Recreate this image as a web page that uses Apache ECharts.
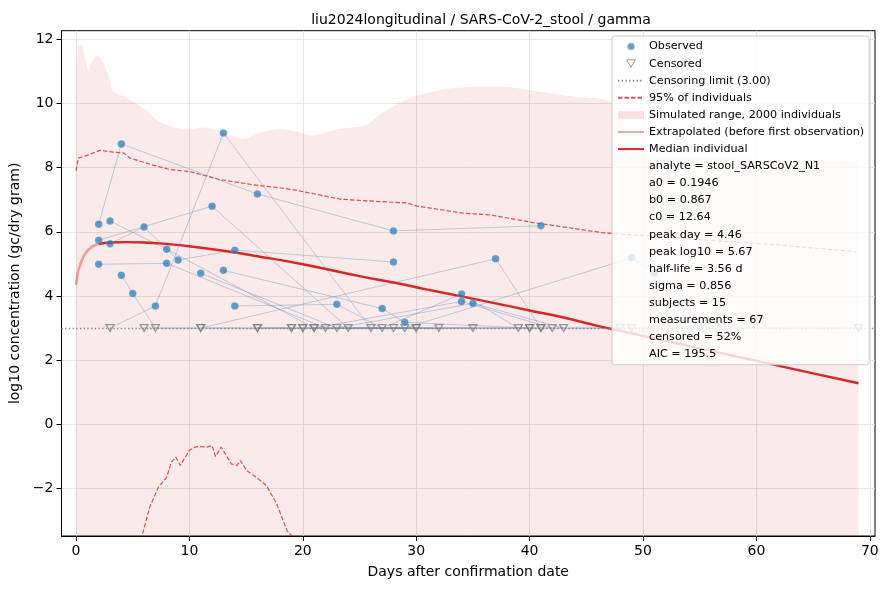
<!DOCTYPE html>
<html>
<head>
<meta charset="utf-8">
<title>liu2024longitudinal / SARS-CoV-2_stool / gamma</title>
<script src="https://cdn.jsdelivr.net/npm/echarts@6/dist/echarts.min.js"></script>
<style>
  html, body { margin: 0; padding: 0; background: #fff; }
  #chart { width: 889px; height: 590px; }
</style>
</head>
<body>
<div id="chart"></div>
<script>
// ---- axis ranges / ticks ----
var xMin = -1.28, xMax = 70.46;
var yMin = -3.48, yMax = 12.27;
var xTicks = [0, 10, 20, 30, 40, 50, 60, 70];
var yTicks = [-2, 0, 2, 4, 6, 8, 10, 12];
var censorLimit = 3.0;

// ---- simulated range (upper envelope, lower edge is below the axis) ----
var simDays  = [0, 0.2, 0.35, 0.6, 0.85, 1.09, 1.4, 1.88, 2.4, 2.9, 3.3, 4.47, 5.64, 6.6, 7.55, 9.9, 11.2, 12.7, 14.75, 16.2, 18, 19.5, 20.8, 23, 25.6, 26.8, 29.5, 32.4, 35.3, 37.4, 41.2, 44, 45.3, 47.2, 48, 49, 55, 62, 69];
var simUpper = [11.0, 11.79, 11.84, 11.7, 11.35, 11.01, 11.3, 11.48, 11.27, 10.85, 10.38, 10.18, 9.92, 9.65, 9.40, 9.19, 9.25, 9.13, 8.90, 9.10, 9.2, 9.13, 9.0, 9.19, 9.34, 9.66, 10.18, 10.44, 10.52, 10.52, 10.35, 10.2, 10.18, 10.04, 9.5, 8.4, 8.3, 8.25, 8.2];

// ---- 95% of individuals ----
var p95UpDays  = [0, 0.2, 1.1, 2.1, 3.4, 4.2, 4.76, 6.7, 8.3, 10, 12.7, 15.6, 18.3, 19.2, 23.3, 25, 29.2, 30, 34.2, 36.5, 40.3, 44.4, 46.5, 53.3, 62, 68.8];
var p95Upper   = [7.9, 8.3, 8.4, 8.54, 8.48, 8.46, 8.30, 8.09, 7.94, 7.88, 7.63, 7.47, 7.36, 7.31, 7.02, 6.98, 6.9, 6.81, 6.58, 6.53, 6.29, 6.08, 5.97, 5.80, 5.59, 5.38];
var p95LowDays = [5.4, 5.8, 6.5, 7.26, 8.0, 8.4, 8.8, 9.2, 10, 10.5, 10.9, 11.5, 12, 12.3, 12.8, 13.7, 14.2, 14.5, 15.05, 15.9, 16.8, 17.7, 18.6, 19.0, 19.4];
var p95Lower   = [-4.2, -3.5, -2.58, -1.96, -1.65, -1.18, -1.02, -1.28, -0.81, -0.71, -0.69, -0.71, -0.66, -1.0, -0.71, -1.23, -1.28, -1.13, -1.44, -1.65, -1.91, -2.48, -3.31, -3.47, -4.0];

// ---- median individual ----
var extrapDays   = [0, 0.1, 0.2, 0.35, 0.5, 0.7, 0.94, 1.2, 1.53, 2];
var extrapValues = [4.34, 4.6, 4.78, 4.95, 5.1, 5.25, 5.38, 5.48, 5.56, 5.62];
var medianDays   = [2, 3, 4.46, 6, 8, 10, 13, 16, 20, 25, 28, 31, 34, 37, 40, 43, 46, 50, 55, 60, 65, 69];
var medianValues = [5.62, 5.67, 5.68, 5.67, 5.62, 5.55, 5.41, 5.24, 4.99, 4.62, 4.42, 4.20, 3.99, 3.77, 3.55, 3.33, 3.07, 2.76, 2.37, 1.98, 1.59, 1.28];

// ---- subjects: [day, log10], null = censored (below limit) ----
var subj01 = [[2, 6.24], [4, 8.74], [16, 7.18], [28, 6.03], [41, 6.19]];
var subj02 = [[2, 5.74], [12, 6.80], [24, null], [32, null]];
var subj03 = [[2, 4.99], [8, 5.02], [22, null], [30, null]];
var subj04 = [[3, 5.63], [6, 6.15], [9, 5.12], [14, 5.43], [28, 5.06]];
var subj05 = [[3, 6.34], [8, 5.46], [21, null], [34, 3.83], [42, null]];
var subj06 = [[4, 4.65], [5, 4.08], [7, null], [19, null]];
var subj07 = [[3, null], [7, 3.69], [13, 9.08], [26, null], [35, null]];
var subj08 = [[11, 4.71], [23, null], [35, 3.77], [43, null]];
var subj09 = [[13, 4.80], [27, 3.61], [29, 3.18], [40, null]];
var subj10 = [[14, 3.69], [23, 3.74], [27, null], [34, 4.06], [39, null]];
var subj11 = [[6, null], [11, null], [37, 5.16], [41, null]];
var subj12 = [[16, null], [20, null], [29, null], [49, 5.19], [51, 4.72], [55, null]];
var subj13 = [[16, null], [19, null], [30, null], [49, null], [69, null]];
var subj14 = [[11, null], [21, null], [40, null], [48, null]];
var subj15 = [[20, null], [28, null], [41, null]];
var subjects = [subj01, subj02, subj03, subj04, subj05, subj06, subj07, subj08, subj09, subj10, subj11, subj12, subj13, subj14, subj15];

var statLines = ['analyte = stool_SARSCoV2_N1', 'a0 = 0.1946', 'b0 = 0.867', 'c0 = 12.64', 'peak day = 4.46', 'peak log10 = 5.67', 'half-life = 3.56 d', 'sigma = 0.856', 'subjects = 15', 'measurements = 67', 'censored = 52%', 'AIC = 195.5'];

var FONT = 'DejaVu Sans';
var RED = '#d62728';
var TRI = 'path://M0,0L10,0L5,8.66Z';

function pairs(xs, ys) {
	return xs.map(function (x, i) { return [x, ys[i]]; });
}
function fmt(v) {
	return v < 0 ? '\u2212' + (-v) : String(v);
}

var observed = [], censored = [];
var subjectSeries = subjects.map(function (s, k) {
	var pts = s.map(function (p) {
		if (p[1] === null) {
			censored.push([p[0], censorLimit]);
			return [p[0], censorLimit];
		}
		observed.push(p);
		return p;
	});
	return {
		name: 'subject ' + (k + 1), type: 'line', data: pts, symbol: 'none', silent: true, z: 3,
		lineStyle: { color: 'rgba(70,130,180,0.38)', width: 0.9 }
	};
});

var series = [{
	name: 'Simulated range, 2000 individuals', type: 'line', data: pairs(simDays, simUpper),
	symbol: 'none', smooth: 0.3, silent: true, z: 1,
	itemStyle: { color: 'rgba(214,39,40,0.14)' },
	lineStyle: { width: 0 },
	areaStyle: { color: 'rgba(214,39,40,0.14)', origin: 'start' }
}, {
	name: '95% of individuals', type: 'line', data: pairs(p95UpDays, p95Upper),
	symbol: 'none', silent: true, z: 3,
	itemStyle: { color: 'rgba(214,39,40,0.8)' },
	lineStyle: { color: 'rgba(214,39,40,0.8)', width: 1.2, type: [4.5, 2] }
}, {
	name: '95% of individuals', type: 'line', data: pairs(p95LowDays, p95Lower),
	symbol: 'none', silent: true, z: 3,
	itemStyle: { color: 'rgba(214,39,40,0.8)' },
	lineStyle: { color: 'rgba(214,39,40,0.8)', width: 1.2, type: [4.5, 2] }
}, {
	name: 'Censoring limit (3.00)', type: 'line', data: [], symbol: 'none', z: 3,
	itemStyle: { color: '#888' },
	lineStyle: { color: '#888', width: 1.3, type: [1.3, 2.4] },
	markLine: {
		silent: true, symbol: ['none', 'none'], label: { show: false }, animation: false,
		lineStyle: { color: '#888', width: 1.3, type: [1.3, 2.4] },
		data: [{ yAxis: censorLimit }]
	}
}, {
	name: 'Extrapolated (before first observation)', type: 'line', data: pairs(extrapDays, extrapValues),
	symbol: 'none', smooth: true, silent: true, z: 4,
	itemStyle: { color: 'rgba(214,39,40,0.4)' },
	lineStyle: { color: 'rgba(214,39,40,0.4)', width: 2.6 }
}, {
	name: 'Median individual', type: 'line', data: pairs(medianDays, medianValues),
	symbol: 'none', smooth: true, silent: true, z: 4,
	itemStyle: { color: RED },
	lineStyle: { color: RED, width: 2.4 }
}].concat(subjectSeries).concat([{
	name: 'Observed', type: 'scatter', data: observed, symbol: 'circle', symbolSize: 7.5, z: 5,
	itemStyle: { color: 'rgba(31,119,180,0.88)', borderColor: 'rgba(255,255,255,0.4)', borderWidth: 0.5 }
}, {
	name: 'Censored', type: 'scatter', data: censored, symbol: TRI, symbolSize: [8, 7], z: 5,
	itemStyle: { color: 'rgba(0,0,0,0)', borderColor: '#808080', borderWidth: 1.2 }
}]);

statLines.forEach(function (s) {
	series.push({ name: s, type: 'line', data: [], symbol: 'none', lineStyle: { opacity: 0 }, itemStyle: { opacity: 0 } });
});

var hidden = { opacity: 0 };
var legendData = [
	{ name: 'Observed' },
	{ name: 'Censored', itemStyle: { borderWidth: 1 } },
	{ name: 'Censoring limit (3.00)', itemStyle: hidden },
	{ name: '95% of individuals', itemStyle: hidden },
	{ name: 'Simulated range, 2000 individuals', icon: 'rect', itemStyle: { color: 'rgba(214,39,40,0.15)', opacity: 1 } },
	{ name: 'Extrapolated (before first observation)', itemStyle: hidden },
	{ name: 'Median individual', itemStyle: hidden }
].concat(statLines.map(function (s) {
	return { name: s, icon: 'none', itemStyle: hidden, lineStyle: { opacity: 0 } };
}));

var axisText = { color: '#000', fontFamily: FONT, fontSize: 14 };

var option = {
	animation: false,
	backgroundColor: '#fff',
	title: {
		text: 'liu2024longitudinal / SARS-CoV-2_stool / gamma',
		left: 476, top: 8, textAlign: 'center',
		textStyle: { color: '#000', fontFamily: FONT, fontSize: 14, fontWeight: 'normal' }
	},
	grid: {
		left: 61.5, right: 14, top: 30.7, bottom: 54,
		containLabel: false, outerBoundsMode: 'none',
		show: true, borderColor: '#000', borderWidth: 1, backgroundColor: 'rgba(0,0,0,0)'
	},
	legend: {
		orient: 'vertical', left: 612, top: 36, z: 20,
		padding: [5, 5, 5, 5],
		itemWidth: 26, itemHeight: 7.5, itemGap: 6.1,
		selectedMode: false,
		backgroundColor: 'rgba(255,255,255,0.8)',
		borderColor: '#cccccc', borderWidth: 1, borderRadius: 3,
		textStyle: { color: '#000', fontFamily: FONT, fontSize: 11.2, lineHeight: 11 },
		data: legendData
	},
	xAxis: {
		type: 'value', min: xMin, max: xMax,
		name: 'Days after confirmation date', nameLocation: 'middle', nameGap: 29,
		nameTextStyle: axisText,
		axisLine: { show: true, onZero: false, lineStyle: { color: '#000', width: 1 } },
		axisTick: { show: true, length: 5, customValues: xTicks, lineStyle: { color: '#000' } },
		axisLabel: { customValues: xTicks, margin: 8, formatter: fmt, color: '#000', fontFamily: FONT, fontSize: 14 },
		splitLine: { show: true, lineStyle: { color: '#dedede', width: 0.8 } }
	},
	yAxis: {
		type: 'value', min: yMin, max: yMax,
		name: 'log10 concentration (gc/dry gram)', nameLocation: 'middle', nameGap: 35,
		nameTextStyle: axisText,
		axisLine: { show: true, onZero: false, lineStyle: { color: '#000', width: 1 } },
		axisTick: { show: true, length: 5, customValues: yTicks, lineStyle: { color: '#000' } },
		axisLabel: { customValues: yTicks, margin: 8, formatter: fmt, color: '#000', fontFamily: FONT, fontSize: 14 },
		splitLine: { show: true, lineStyle: { color: '#dedede', width: 0.8 } }
	},
	series: series
};

var chart = echarts.init(document.getElementById('chart'), null, { renderer: 'canvas' });
chart.setOption(option);
</script>
</body>
</html>
